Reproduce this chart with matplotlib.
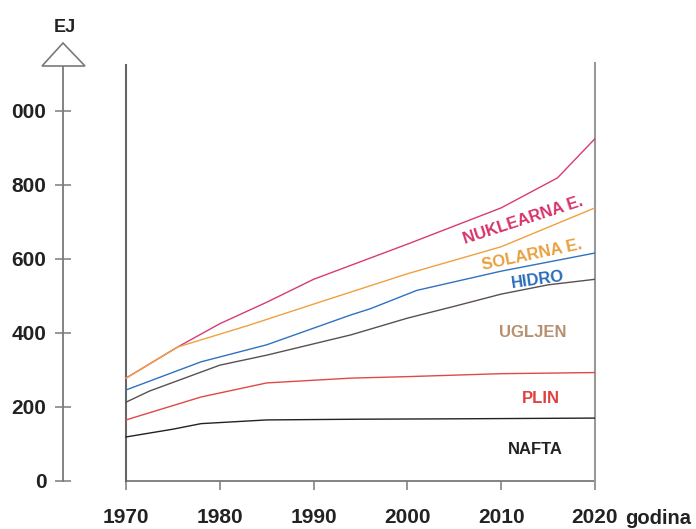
import matplotlib
matplotlib.use("Agg")
import matplotlib.pyplot as plt
from matplotlib.patches import Polygon

plt.rcParams['font.family'] = ['Liberation Sans', 'DejaVu Sans']
plt.rcParams['font.weight'] = 'bold'

# podaci (EJ), kumulativno
nafta_god = [1970, 1975, 1978, 1985, 1995, 2005, 2020]
nafta = [119, 140, 155, 165, 167, 168, 170]

plin_god = [1970, 1978, 1985, 1994, 2000, 2010, 2020]
plin = [165, 227, 265, 278, 282, 290, 293]

ugljen_god = [1970, 1972.5, 1980, 1985, 1994, 1996, 2000, 2005, 2010, 2015, 2020]
ugljen = [213, 243, 313, 340, 395, 410, 440, 472, 505, 530, 545]

hidro_god = [1970, 1978, 1985, 1994, 1996, 2001, 2010, 2020]
hidro = [246, 322, 368, 449, 465, 515, 567, 616]

solar_god = [1970, 1975.5, 1983, 1990, 2000, 2010, 2020]
solar = [278, 362, 420, 478, 560, 633, 738]

nukl_god = [1970, 1975.5, 1980, 1985, 1990, 2000, 2010, 2016, 2020]
nukl = [278, 362, 425, 483, 545, 640, 738, 819, 925]

x_ticks = [1970, 1980, 1990, 2000, 2010, 2020]
y_ticks = [0, 200, 400, 600, 800, 1000]
y_labels = ['0', '200', '400', '600', '800', '000']

W, H = 696, 529
fig = plt.figure(figsize=(6.96, 5.29), dpi=100)
# os: lijevo px 63, desno px 595, dolje px 481, gore px 65
ax = fig.add_axes([63 / W, (H - 481) / H, (595 - 63) / W, (481 - 65) / H])
ax.set_xlim(1963.28, 2020)
ax.set_ylim(0, 1124)

siva = '#7a7a7a'
for s in ['top', 'right', 'bottom']:
    ax.spines[s].set_visible(False)
ax.spines['left'].set_color(siva)
ax.spines['left'].set_linewidth(1.3)

ax.set_yticks(y_ticks)
ax.set_yticklabels(y_labels)
ax.tick_params(axis='y', direction='inout', length=12, width=1.1, color=siva,
               pad=6, labelsize=15)
ax.set_xticks(x_ticks)
ax.set_xticklabels([str(g) for g in x_ticks])
ax.tick_params(axis='x', direction='out', length=6.5, width=1.1, color=siva,
               pad=13, labelsize=15)
for t in ax.get_xticklabels() + ax.get_yticklabels():
    t.set_fontweight('bold')
    t.set_color('#222222')

# okvir grafa
ax.plot([1970, 2020], [0, 0], color=siva, lw=1.3, clip_on=False)
ax.plot([1970, 1970], [0, 1124], color='#666666', lw=1.5, clip_on=False)
ax.plot([2020, 2020], [0, 1130], color='#999999', lw=1.5, clip_on=False)

lw = 1.0
ax.plot(nafta_god, nafta, color='#222222', lw=lw)
ax.plot(plin_god, plin, color='#e04848', lw=lw)
ax.plot(ugljen_god, ugljen, color='#5a5050', lw=lw)
ax.plot(hidro_god, hidro, color='#2f72c0', lw=lw)
ax.plot(nukl_god, nukl, color='#d83a78', lw=lw)
ax.plot(solar_god, solar, color='#f0a040', lw=lw)

fs = 12
ax.text(2012.3, 705, 'NUKLEARNA E.', color='#d6336c', fontsize=fs, fontweight='bold',
        rotation=18, ha='center', va='center')
ax.text(2013.3, 611, 'SOLARNA E.', color='#e8a040', fontsize=fs, fontweight='bold',
        rotation=12, ha='center', va='center')
ax.text(2013.9, 543, 'HIDRO', color='#2a6cb8', fontsize=fs, fontweight='bold',
        rotation=8, ha='center', va='center')
ax.text(2013.4, 400, 'UGLJEN', color='#b89070', fontsize=fs, fontweight='bold',
        ha='center', va='center')
ax.text(2014.2, 224, 'PLIN', color='#e04040', fontsize=fs, fontweight='bold',
        ha='center', va='center')
ax.text(2013.6, 84, 'NAFTA', color='#222222', fontsize=fs, fontweight='bold',
        ha='center', va='center')

# strelica osi i oznake
tri = Polygon([(63 / W, 1 - 43 / H), (42 / W, 1 - 66 / H), (85 / W, 1 - 66 / H)],
              closed=True, facecolor='white', edgecolor=siva, lw=1.2,
              transform=fig.transFigure)
fig.patches.append(tri)
fig.text(65 / W, 1 - 27 / H, 'EJ', fontsize=13, fontweight='bold', color='#222222',
         ha='center', va='center')
fig.text(625 / W, 1 - 524 / H, 'godina', fontsize=14.5, fontweight='bold',
         color='#222222', ha='left', va='baseline')

fig.savefig('out.png', dpi=100)
